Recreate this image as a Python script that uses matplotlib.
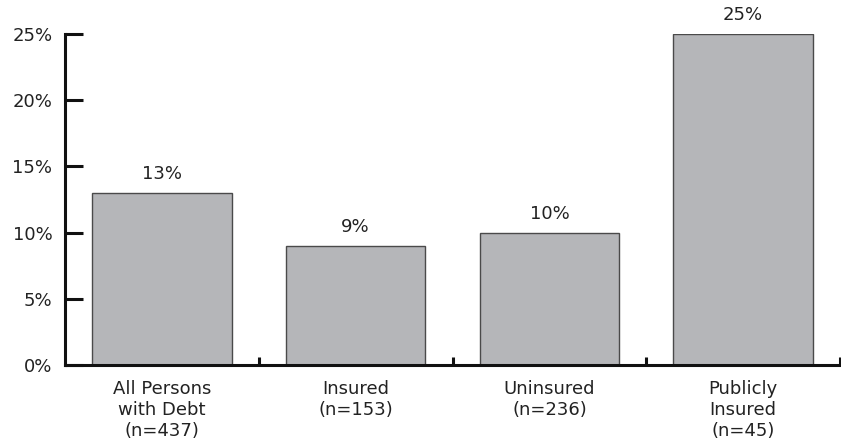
import matplotlib.pyplot as plt
import numpy as np

plt.rcParams['font.family'] = ['DejaVu Sans']

categories = ["All Persons\nwith Debt\n(n=437)", "Insured\n(n=153)",
              "Uninsured\n(n=236)", "Publicly\nInsured\n(n=45)"]
values = [13, 9, 10, 25]
yticks = [0, 5, 10, 15, 20, 25]

fig = plt.figure(figsize=(8.41, 4.47), dpi=100)
ax = fig.add_axes([65 / 841, 82 / 447, 775 / 841, 331 / 447])

x = np.arange(len(categories))
ax.bar(x, values, width=0.72, color="#b5b6b9", edgecolor="#4a4a4a", linewidth=1.0, zorder=2)

for xi, v in zip(x, values):
    ax.annotate(f"{v}%", (xi, v), xytext=(0, 7), textcoords="offset points",
                ha="center", va="bottom", fontsize=13, color="#222222", clip_on=False)

ax.set_xlim(-0.5, len(categories) - 0.5)
ax.set_ylim(0, 25)

ax.set_yticks(yticks)
ax.set_yticklabels([f"{t}%" for t in yticks], fontsize=13, color="#222222")
ax.tick_params(axis="y", direction="in", length=13, width=2.2, pad=9, color="#111111")

ax.set_xticks(x)
ax.set_xticklabels(categories, fontsize=13, color="#222222", linespacing=1.2)
ax.tick_params(axis="x", which="major", length=0, pad=11)
ax.set_xticks(x + 0.5, minor=True)
ax.tick_params(axis="x", which="minor", direction="in", length=6, width=2.2, color="#111111")

for side in ["top", "right"]:
    ax.spines[side].set_visible(False)
for side in ["left", "bottom"]:
    ax.spines[side].set_linewidth(2.2)
    ax.spines[side].set_color("#111111")

fig.savefig("out.png", dpi=100)
